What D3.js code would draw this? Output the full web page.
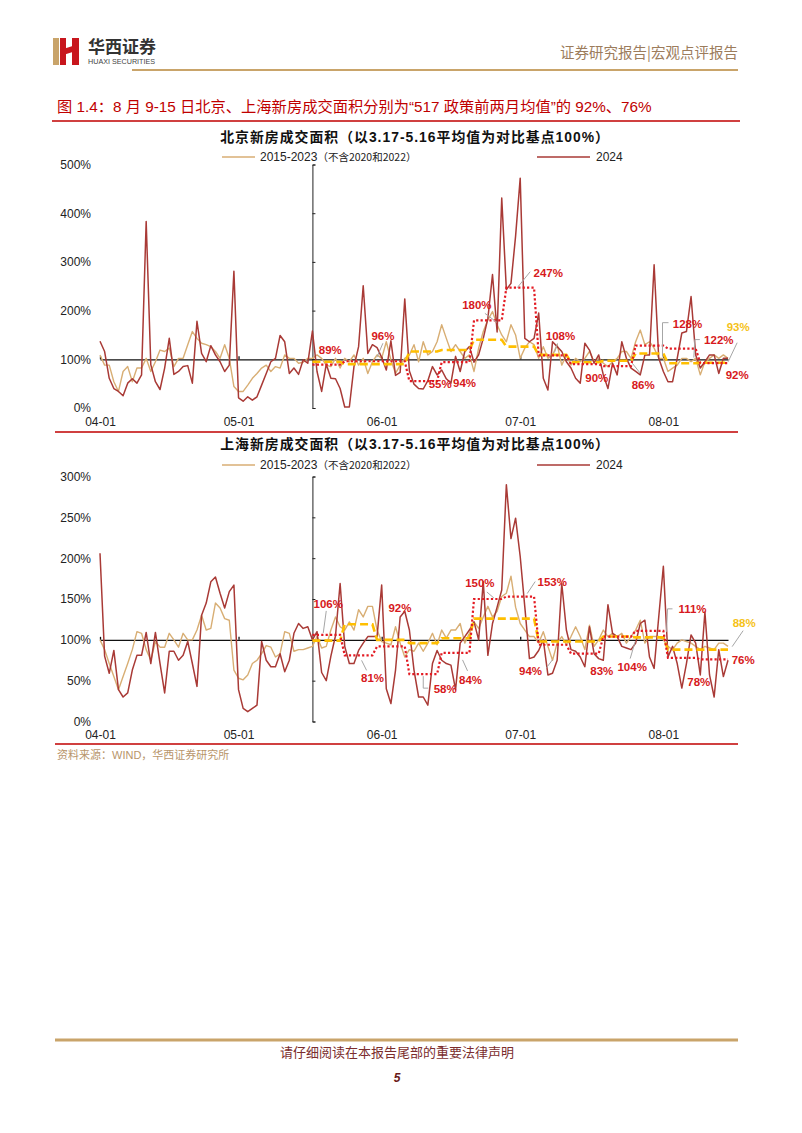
<!DOCTYPE html>
<html><head><meta charset="utf-8">
<script src="https://cdn.jsdelivr.net/npm/d3@7"></script>
<style>
body{margin:0;background:#fff;}
svg{display:block;}
</style></head><body>
<svg id="c" width="802" height="1133"></svg>
<script>
// ---------------- DATA ----------------
const startDate = "2024-04-01";
const endDate = "2024-08-15";
const policyDate = "2024-05-17";
const monthTicks = ["2024-04-01","2024-05-01","2024-06-01","2024-07-01","2024-08-01"];

const seriesNames = ["2015-2023", "2024"];
const histNote = "（不含2020和2022）";

// Beijing, daily, % of 3.17-5.16 average
const bj2024 = [137,116,61,40,34,25,51,60,51,68,
 383,89,54,38,82,143,69,75,85,87,
 51,178,112,95,128,109,95,75,88,281,
 21,14,23,16,23,47,71,95,102,149,
 136,71,82,69,99,92,
 158,75,34,90,
 61,60,40,2,2,85,126,251,112,130,
 124,104,78,138,67,73,224,76,49,40,
 39,56,85,68,78,60,51,106,75,116,
 126,94,109,143,184,274,156,431,243,256,
 353,472,143,136,143,195,61,37,136,126,
 116,95,82,61,51,133,119,92,109,68,
 40,92,68,136,102,82,75,68,109,109,
 294,102,75,54,54,102,154,157,229,109,
 82,95,109,109,71,102,102];
const bjHist = [109,88,88,54,34,75,85,54,82,82,
 102,75,95,119,116,123,85,102,102,130,
 157,143,133,130,126,116,102,130,102,44,
 34,34,47,61,71,82,88,75,85,82,
 109,102,102,92,94,102,
 102,109,102,88,85,102,82,102,95,109,88,102,71,95,
 109,102,136,99,71,88,102,109,130,95,136,109,116,136,
 171,143,116,130,116,102,109,75,123,157,181,198,171,150,
 136,171,150,102,123,136,130,102,
 126,102,109,130,88,109,88,102,95,102,
 116,95,102,92,85,95,102,116,116,102,
 136,160,130,136,123,102,102,75,82,88,
 102,102,95,102,68,95,102,109,102,109,102];

// Shanghai, daily
const sh2024 = [206,80,59,87,39,30,35,63,81,81,
 109,71,109,71,35,86,86,75,81,98,
 71,43,130,145,171,177,157,139,159,167,
 39,16,12,16,20,98,75,67,67,83,
 61,75,108,120,114,116,
 100,110,60,50,80,105,169,92,71,71,
 87,96,104,104,104,167,40,22,63,128,
 135,112,63,30,30,20,71,87,75,71,
 69,39,96,104,112,122,100,171,81,120,
 140,161,290,224,249,202,140,77,79,87,
 100,57,59,75,169,112,88,86,79,67,
 116,83,77,75,143,108,104,92,90,88,
 96,120,124,79,65,128,190,79,92,71,
 41,71,106,96,57,134,57,30,88,55,75];
const shHist = [100,88,71,55,39,55,71,88,110,108,
 88,75,98,91,91,108,100,91,108,100,
 100,112,130,112,114,145,139,126,124,63,
 53,51,57,71,75,83,93,91,79,83,
 110,108,86,88,88,90,92,
 104,90,92,112,128,116,112,122,112,137,
 128,141,141,112,98,96,94,116,96,79,
 88,86,96,86,96,108,94,112,102,112,
 112,120,96,108,122,114,128,141,128,135,
 153,157,178,140,120,112,104,104,96,
 110,92,75,96,104,94,104,116,104,88,
 118,92,100,112,104,108,104,108,96,104,
 112,124,96,104,104,104,100,92,88,96,
 100,98,96,92,88,92,90,88,96,96,92];

// weekly averages after 5.17 (weeks 5/17-5/23 ... 8/9-8/15)
const bjWeek2024 = [89,96,96,55,94,180,247,108,90,86,128,122,92];
const bjWeekHist = [95,90,90,116,119,140,126,109,94,97,112,92,93];
const shWeek2024 = [106,81,92,58,84,150,153,94,83,104,111,78,76];
const shWeekHist = [99,119,100,96,102,126,126,98,98,104,103,88,88];

const bjTicks = [0,100,200,300,400,500];
const shTicks = [0,50,100,150,200,250,300];

const bjTitle = "北京新房成交面积（以3.17-5.16平均值为对比基点100%）";
const shTitle = "上海新房成交面积（以3.17-5.16平均值为对比基点100%）";
const figTitle = "图 1.4：8 月 9-15 日北京、上海新房成交面积分别为“517 政策前两月均值”的 92%、76%";

// ---------------- LAYOUT (label offsets from week step anchor) ----------------
const bjLab = [[4,-15],null,[-8,-25],[17,3],[9,21],[-11,-15],[28,-15],[8,-19],[12,14],[26,19],[38,-22],[37,-9],[23,12]];
const bjLead = [null,null,[[-8,-18],[-14,-4]],null,null,[[-3,-7],[9,2]],[[10,-16],[-3,0]],[[5,-12],[2,-3]],null,[[23,7],[15,-3]],[[19,-23],[13,-23],[13,11]],[[18,-9],[13,-9],[12,9]],null];
const bjHistLab = {i:12, off:[24,-36], lead:[[23,-20],[14,-1]]};
const shLab = [[2,-31],[14,23],[9,-38],[22,15],[15,27],[-8,-16],[32,-15],[-22,26],[17,17],[15,30],[43,-22],[17,24],[29,1]];
const shLead = [[[0,-24],[-3,-2]],[[8,15],[3,5]],null,[[5,14],[0,14],[0,2]],[[12,18],[7,7]],[[-1,-7],[6,-1]],[[15,-15],[7,-3]],[[-6,23],[0,15]],null,[[13,22],[18,5]],[[23,-22],[18,-22],[17,1]],null,null];
const shHistLab = {i:12, off:[30,-27], lead:[[29,-19],[18,-3]]};

// ---------------- DRAW ----------------
const svg = d3.select("#c");
const parse = d3.timeParse("%Y-%m-%d");
const d0 = parse(startDate), d1 = parse(endDate), dp = parse(policyDate);
const dates = d3.timeDay.range(d0, d3.timeDay.offset(d1, 1));
const x = d3.scaleTime().domain([d0, d1]).range([100, 728]);
const pIdx = d3.timeDay.count(d0, dp);

const C = {cur:"#a93a36", hist:"#d8ae74", red:"#e31b23", yel:"#ffbf00", lab:"#d71920", ylab:"#f5c218", lead:"#a6a6a6", rule:"#c00000", gold:"#c9a46a"};
const latin = "'Liberation Sans', Arial, sans-serif";
const cjk = "'Liberation Sans','Noto Sans CJK SC', sans-serif";

function fitText(sel, w){
  const fs = parseFloat(sel.attr("font-size"));
  const len = sel.node().getComputedTextLength();
  sel.attr("font-size", (fs * w / len).toFixed(2));
}

// header
const logo = svg.append("g");
logo.append("rect").attr("x",53).attr("y",38).attr("width",6).attr("height",27).attr("fill","#c9a46a");
logo.append("rect").attr("x",60).attr("y",38).attr("width",6).attr("height",27).attr("fill","#c8161d");
logo.append("rect").attr("x",72).attr("y",38).attr("width",7).attr("height",27).attr("fill","#c8161d");
logo.append("path").attr("d","M60,50 L79,44 L79,50 L60,56 Z").attr("fill","#c8161d");
svg.append("text").attr("x",88).attr("y",53).attr("font-size",17).attr("font-weight",700)
  .attr("font-family","'Noto Sans CJK SC',sans-serif").attr("fill","#333").text("华西证券");
svg.append("text").attr("x",88).attr("y",64).attr("font-size",7.2).attr("font-family",latin)
  .attr("fill","#444").text("HUAXI SECURITIES");
svg.append("text").attr("x",738).attr("y",58).attr("text-anchor","end").attr("font-size",14.5)
  .attr("font-family","'Noto Sans CJK SC',sans-serif").attr("fill","#9c7c5c").text("证券研究报告|宏观点评报告");
svg.append("line").attr("x1",132).attr("x2",738).attr("y1",70).attr("y2",70).attr("stroke",C.gold).attr("stroke-width",2);

const ft = svg.append("text").attr("x",57).attr("y",112).attr("font-size",16)
  .attr("font-family",cjk).attr("fill","#c00000").text(figTitle);
fitText(ft, 595);
svg.append("line").attr("x1",52).attr("x2",740).attr("y1",121).attr("y2",121).attr("stroke",C.rule).attr("stroke-width",1.3);

function panel(o){
  const y = d3.scaleLinear().domain([0, o.yMax]).range([o.yBot, o.yTop]);
  const g = svg.append("g");
  // title
  const t = g.append("text").attr("x",415).attr("y",o.titleY).attr("text-anchor","middle")
    .attr("font-size",14).attr("font-weight",700).attr("font-family",cjk).attr("fill","#111")
    .attr("letter-spacing",1).text(o.title);
  fitText(t, 390);
  // legend
  g.append("line").attr("x1",222).attr("x2",255).attr("y1",o.legY).attr("y2",o.legY).attr("stroke",C.hist).attr("stroke-width",1.5);
  const lt = g.append("text").attr("x",260).attr("y",o.legY+4).attr("font-family",latin).attr("font-size",12).attr("fill","#222");
  lt.append("tspan").text(seriesNames[0]);
  lt.append("tspan").attr("font-size",10.5).attr("font-family","'Noto Sans CJK SC',sans-serif").text(histNote);
  g.append("line").attr("x1",537).attr("x2",590).attr("y1",o.legY).attr("y2",o.legY).attr("stroke",C.cur).attr("stroke-width",1.5);
  g.append("text").attr("x",596).attr("y",o.legY+4).attr("font-family",latin).attr("font-size",12).attr("fill","#222").text(seriesNames[1]);

  // y labels
  const ya = g.append("g").attr("transform","translate(91,0)")
    .call(d3.axisLeft(y).tickValues(o.ticks).tickFormat(d=>d+"%").tickSize(0).tickPadding(0));
  ya.select(".domain").remove();
  ya.selectAll("text").attr("font-size",12).attr("font-family",latin).attr("fill","#222");

  // policy axis
  const pa = g.append("g").attr("transform",`translate(${x(dp)},0)`)
    .call(d3.axisRight(y).tickValues(o.ticks).tickSize(3).tickSizeOuter(3).tickFormat(""));
  pa.selectAll("path,line").attr("stroke","#222").attr("stroke-width",1);

  // baseline axis at 100%
  const mt = monthTicks.map(parse);
  const ba = g.append("g").attr("transform",`translate(0,${y(100)})`)
    .call(d3.axisTop(x).tickValues(mt).tickSize(3).tickSizeOuter(0).tickFormat(""));
  ba.selectAll("path,line").attr("stroke","#111").attr("stroke-width",1.3);
  const xl = g.append("g").attr("transform",`translate(0,${o.yBot})`)
    .call(d3.axisBottom(x).tickValues(mt).tickSize(0).tickPadding(9).tickFormat(d3.timeFormat("%m-%d")));
  xl.select(".domain").remove();
  xl.selectAll("text").attr("font-size",12).attr("font-family",latin).attr("fill","#222");

  const line = d3.line().x((d,i)=>x(dates[i])).y(d=>y(d));
  g.append("path").attr("d",line(o.hist)).attr("fill","none").attr("stroke",C.hist).attr("stroke-width",1.4).attr("stroke-linejoin","round");
  g.append("path").attr("d",line(o.cur)).attr("fill","none").attr("stroke",C.cur).attr("stroke-width",1.5).attr("stroke-linejoin","round");

  const stepPts = wk => d3.range(pIdx, dates.length).map(i => [dates[i], wk[Math.floor((i-pIdx)/7)]]);
  const sl = d3.line().x(d=>x(d[0])).y(d=>y(d[1]));
  g.append("path").attr("d",sl(stepPts(o.wkHist))).attr("fill","none").attr("stroke",C.yel).attr("stroke-width",2.6).attr("stroke-dasharray","8,4");
  g.append("path").attr("d",sl(stepPts(o.wk24))).attr("fill","none").attr("stroke",C.red).attr("stroke-width",2.2).attr("stroke-dasharray","2.2,2.2");

  const anchor = (i, v) => [x(dates[pIdx + 7*i + 3]), y(v)];
  const leader = (a, pts) => g.append("polyline").attr("points", pts.map(p=>[a[0]+p[0], a[1]+p[1]].join(",")).join(" "))
     .attr("fill","none").attr("stroke",C.lead).attr("stroke-width",1);
  o.wk24.forEach((v,i)=>{
    const a = anchor(i, v);
    if (o.lead[i]) leader(a, o.lead[i]);
    if (!o.lab[i]) return;
    g.append("text").attr("x",a[0]+o.lab[i][0]).attr("y",a[1]+o.lab[i][1]).attr("text-anchor","middle")
      .attr("dominant-baseline","central").attr("font-family",latin).attr("font-weight",700).attr("font-size",11.5)
      .attr("fill",C.lab).text(v+"%");
  });
  const h = o.histLab, ha = anchor(h.i, o.wkHist[h.i]);
  leader(ha, h.lead);
  g.append("text").attr("x",ha[0]+h.off[0]).attr("y",ha[1]+h.off[1]).attr("text-anchor","middle")
    .attr("dominant-baseline","central").attr("font-family",latin).attr("font-weight",700).attr("font-size",11.5)
    .attr("fill",C.ylab).text(o.wkHist[h.i]+"%");
}

panel({title:bjTitle, titleY:142, legY:157, yMax:500, yBot:408, yTop:164.5, ticks:bjTicks,
  hist:bjHist, cur:bj2024, wk24:bjWeek2024, wkHist:bjWeekHist, lab:bjLab, lead:bjLead, histLab:bjHistLab});
svg.append("line").attr("x1",55).attr("x2",738).attr("y1",432).attr("y2",432).attr("stroke",C.rule).attr("stroke-width",1.3);
panel({title:shTitle, titleY:449, legY:465, yMax:300, yBot:721.5, yTop:476.5, ticks:shTicks,
  hist:shHist, cur:sh2024, wk24:shWeek2024, wkHist:shWeekHist, lab:shLab, lead:shLead, histLab:shHistLab});
svg.append("line").attr("x1",55).attr("x2",738).attr("y1",744).attr("y2",744).attr("stroke",C.rule).attr("stroke-width",1.3);

svg.append("text").attr("x",57).attr("y",759).attr("font-size",11).attr("font-family",cjk)
  .attr("fill","#b8956a").text("资料来源：WIND，华西证券研究所");

// footer
svg.append("line").attr("x1",55).attr("x2",738).attr("y1",1040).attr("y2",1040).attr("stroke",C.gold).attr("stroke-width",3);
svg.append("text").attr("x",397).attr("y",1057).attr("text-anchor","middle").attr("font-size",13)
  .attr("font-family","'Noto Sans CJK SC',sans-serif").attr("fill","#7b2d2d").text("请仔细阅读在本报告尾部的重要法律声明");
svg.append("text").attr("x",397).attr("y",1082).attr("text-anchor","middle").attr("font-size",12).attr("font-weight",700)
  .attr("font-style","italic").attr("font-family",latin).attr("fill","#6b1a1a").text("5");
</script>
</body></html>
